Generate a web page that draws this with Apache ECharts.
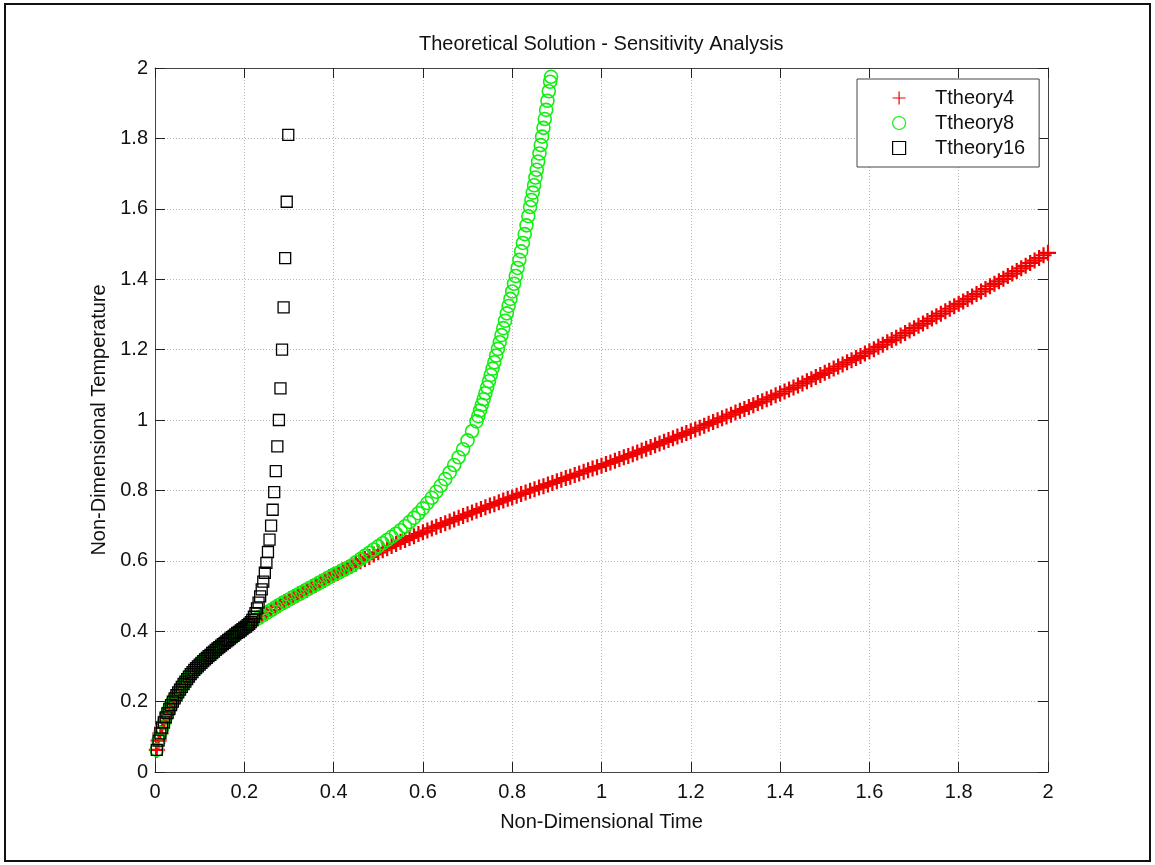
<!DOCTYPE html>
<html>

<head>
    <meta charset="utf-8">
    <title>Sensitivity Analysis</title>
    <script src="https://cdn.jsdelivr.net/npm/echarts@6/dist/echarts.min.js"></script>
    <style>
        html, body { margin: 0; padding: 0; background: #fff; }
        #main { width: 1155px; height: 865px; }
    </style>
</head>

<body>
    <div id="main"></div>
</body>
<script type="text/javascript">
    // [time, temperature] pairs
    // start of the curve, shared by all three runs
    var early = [
        [0.004, 0.063], [0.008, 0.089], [0.012, 0.110], [0.016, 0.126], [0.020, 0.141],
        [0.024, 0.155], [0.028, 0.167], [0.032, 0.179], [0.036, 0.190], [0.040, 0.200],
        [0.044, 0.209], [0.048, 0.218], [0.052, 0.226], [0.056, 0.234], [0.060, 0.242],
        [0.064, 0.250], [0.068, 0.257], [0.072, 0.264], [0.076, 0.271], [0.080, 0.278],
        [0.084, 0.284], [0.088, 0.290], [0.092, 0.295], [0.096, 0.300], [0.100, 0.305],
        [0.104, 0.310], [0.108, 0.315], [0.112, 0.320], [0.116, 0.324], [0.120, 0.329],
        [0.124, 0.333], [0.128, 0.338], [0.132, 0.342], [0.136, 0.347], [0.140, 0.351],
        [0.144, 0.355], [0.148, 0.359], [0.152, 0.363], [0.156, 0.367], [0.160, 0.371],
        [0.164, 0.375], [0.168, 0.379], [0.172, 0.383], [0.176, 0.387], [0.180, 0.391],
        [0.184, 0.395], [0.188, 0.398], [0.192, 0.402], [0.196, 0.406], [0.200, 0.410]
    ];
    // shared by Ttheory4 and Ttheory8
    var mid = [
        [0.21, 0.419], [0.22, 0.428], [0.23, 0.436], [0.24, 0.444], [0.25, 0.452],
        [0.26, 0.460], [0.27, 0.468], [0.28, 0.476], [0.29, 0.483], [0.30, 0.490],
        [0.31, 0.497], [0.32, 0.504], [0.33, 0.511], [0.34, 0.518], [0.35, 0.525],
        [0.36, 0.532], [0.37, 0.539], [0.38, 0.546], [0.39, 0.553], [0.40, 0.560],
        [0.41, 0.566], [0.42, 0.573], [0.43, 0.579], [0.44, 0.586]
    ];
    var theory4 = [
        [0.45, 0.592], [0.46, 0.599], [0.47, 0.605], [0.48, 0.611], [0.49, 0.618], [0.50, 0.624],
        [0.51, 0.630], [0.52, 0.636], [0.53, 0.642], [0.54, 0.648], [0.55, 0.654],
        [0.56, 0.659], [0.57, 0.665], [0.58, 0.670], [0.59, 0.676], [0.60, 0.681],
        [0.61, 0.686], [0.62, 0.692], [0.63, 0.697], [0.64, 0.702], [0.65, 0.707],
        [0.66, 0.712], [0.67, 0.717], [0.68, 0.722], [0.69, 0.727], [0.70, 0.732],
        [0.71, 0.737], [0.72, 0.742], [0.73, 0.747], [0.74, 0.752], [0.75, 0.757],
        [0.76, 0.761], [0.77, 0.766], [0.78, 0.771], [0.79, 0.776], [0.80, 0.780],
        [0.81, 0.785], [0.82, 0.790], [0.83, 0.794], [0.84, 0.799], [0.85, 0.803],
        [0.86, 0.808], [0.87, 0.812], [0.88, 0.817], [0.89, 0.821], [0.90, 0.826],
        [0.91, 0.830], [0.92, 0.835], [0.93, 0.839], [0.94, 0.844], [0.95, 0.848],
        [0.96, 0.853], [0.97, 0.857], [0.98, 0.862], [0.99, 0.866], [1.00, 0.870],
        [1.01, 0.875], [1.02, 0.879], [1.03, 0.884], [1.04, 0.889], [1.05, 0.894],
        [1.06, 0.898], [1.07, 0.903], [1.08, 0.908], [1.09, 0.913], [1.10, 0.918],
        [1.11, 0.923], [1.12, 0.928], [1.13, 0.933], [1.14, 0.938], [1.15, 0.943],
        [1.16, 0.948], [1.17, 0.953], [1.18, 0.958], [1.19, 0.963], [1.20, 0.968],
        [1.21, 0.973], [1.22, 0.978], [1.23, 0.984], [1.24, 0.989], [1.25, 0.994],
        [1.26, 0.999], [1.27, 1.005], [1.28, 1.010], [1.29, 1.015], [1.30, 1.021],
        [1.31, 1.026], [1.32, 1.031], [1.33, 1.037], [1.34, 1.042], [1.35, 1.048],
        [1.36, 1.053], [1.37, 1.059], [1.38, 1.064], [1.39, 1.070], [1.40, 1.075],
        [1.41, 1.081], [1.42, 1.087], [1.43, 1.092], [1.44, 1.098], [1.45, 1.104],
        [1.46, 1.110], [1.47, 1.116], [1.48, 1.122], [1.49, 1.128], [1.50, 1.134],
        [1.51, 1.140], [1.52, 1.146], [1.53, 1.152], [1.54, 1.158], [1.55, 1.164],
        [1.56, 1.170], [1.57, 1.176], [1.58, 1.182], [1.59, 1.189], [1.60, 1.195],
        [1.61, 1.201], [1.62, 1.208], [1.63, 1.214], [1.64, 1.221], [1.65, 1.227],
        [1.66, 1.234], [1.67, 1.240], [1.68, 1.247], [1.69, 1.254], [1.70, 1.261],
        [1.71, 1.268], [1.72, 1.274], [1.73, 1.281], [1.74, 1.288], [1.75, 1.295],
        [1.76, 1.302], [1.77, 1.309], [1.78, 1.316], [1.79, 1.323], [1.80, 1.330],
        [1.81, 1.337], [1.82, 1.344], [1.83, 1.351], [1.84, 1.358], [1.85, 1.365],
        [1.86, 1.372], [1.87, 1.380], [1.88, 1.387], [1.89, 1.394], [1.90, 1.401],
        [1.91, 1.409], [1.92, 1.416], [1.93, 1.423], [1.94, 1.431], [1.95, 1.438],
        [1.96, 1.446], [1.97, 1.453], [1.98, 1.460], [1.99, 1.468], [2.00, 1.475]
    ];
    var theory8 = [
        [0.45, 0.596], [0.46, 0.605], [0.47, 0.614], [0.48, 0.623], [0.49, 0.632], [0.50, 0.641],
        [0.51, 0.650], [0.52, 0.659], [0.53, 0.668], [0.54, 0.677], [0.55, 0.687],
        [0.56, 0.698], [0.57, 0.710], [0.58, 0.722], [0.59, 0.735], [0.60, 0.749],
        [0.61, 0.764], [0.62, 0.779], [0.63, 0.796], [0.64, 0.813], [0.65, 0.832],
        [0.66, 0.851], [0.67, 0.872], [0.68, 0.894], [0.69, 0.917], [0.70, 0.942],
        [0.71, 0.968], [0.72, 0.996], [0.724, 1.011], [0.728, 1.027], [0.732, 1.043],
        [0.736, 1.059], [0.740, 1.076], [0.744, 1.093], [0.748, 1.110], [0.752, 1.128],
        [0.756, 1.146], [0.760, 1.164], [0.764, 1.183], [0.768, 1.202], [0.772, 1.221],
        [0.776, 1.241], [0.780, 1.261], [0.784, 1.282], [0.788, 1.303], [0.792, 1.324],
        [0.796, 1.344], [0.800, 1.365], [0.804, 1.387], [0.808, 1.409], [0.812, 1.432],
        [0.816, 1.455], [0.820, 1.479], [0.824, 1.503], [0.828, 1.528], [0.832, 1.553],
        [0.836, 1.579], [0.840, 1.605], [0.843, 1.625], [0.846, 1.646], [0.849, 1.667],
        [0.852, 1.689], [0.855, 1.711], [0.858, 1.734], [0.861, 1.757], [0.864, 1.781],
        [0.867, 1.805], [0.870, 1.830], [0.873, 1.855], [0.876, 1.881], [0.879, 1.907],
        [0.882, 1.934], [0.885, 1.961], [0.887, 1.975]
    ];
    var theory16 = [
        [0.2040, 0.413], [0.2075, 0.417], [0.2110, 0.421], [0.2145, 0.426], [0.2180, 0.432],
        [0.2215, 0.441], [0.2250, 0.451], [0.2285, 0.465], [0.2320, 0.481], [0.2355, 0.499],
        [0.2390, 0.519], [0.2425, 0.541], [0.2460, 0.566], [0.2495, 0.594], [0.2530, 0.625],
        [0.2565, 0.660], [0.2600, 0.700], [0.2635, 0.745], [0.2670, 0.795], [0.2705, 0.855],
        [0.2740, 0.925], [0.2775, 1.000], [0.2810, 1.090], [0.2845, 1.200], [0.2880, 1.320],
        [0.2915, 1.460], [0.2950, 1.620], [0.2985, 1.810]
    ];
    var seriesNames = ['Ttheory4', 'Ttheory8', 'Ttheory16'];
    var tickStep = 0.2;

    var font = "'Liberation Sans', Arial, Helvetica, sans-serif";
    var plusPath = 'path://M0,5L10,5M5,0L5,10';
    var squarePath = 'path://M0,0L10,0L10,10L0,10Z';

    var chart = echarts.init(document.getElementById('main'));
    chart.setOption({
        animation: false,
        backgroundColor: '#fff',
        textStyle: { fontFamily: font, color: '#111' },
        title: {
            text: 'Theoretical Solution - Sensitivity Analysis',
            left: 419,
            top: 34,
            padding: 0,
            textStyle: { fontFamily: font, fontSize: 20, fontWeight: 'normal', color: '#111' }
        },
        legend: {
            data: seriesNames,
            orient: 'vertical',
            left: 857,
            top: 79,
            padding: [9, 14, 9, 35],
            itemWidth: 62,
            itemHeight: 13,
            itemGap: 5,
            backgroundColor: '#fff',
            borderColor: '#444',
            borderWidth: 1,
            itemStyle: { borderWidth: 1.2 },
            textStyle: { fontFamily: font, fontSize: 20, lineHeight: 20, color: '#111' }
        },
        graphic: [{
            type: 'rect',
            shape: { x: 5, y: 4, width: 1145, height: 857 },
            style: { fill: 'none', stroke: '#111', lineWidth: 2 },
            silent: true
        }],
        grid: { left: 155, right: 107, top: 68, bottom: 93 },
        xAxis: [{
            type: 'value',
            min: 0,
            max: 2,
            interval: tickStep,
            name: 'Non-Dimensional Time',
            nameLocation: 'middle',
            nameGap: 40,
            nameTextStyle: { fontFamily: font, fontSize: 20, color: '#111' },
            axisLine: { show: true, onZero: false, lineStyle: { color: '#444', width: 1 } },
            axisTick: { show: true, inside: true, length: 10, lineStyle: { color: '#222' } },
            axisLabel: { margin: 10, fontSize: 20, color: '#111', fontFamily: font },
            splitLine: { show: true, lineStyle: { color: '#b5b5b5', type: [1, 2], width: 1 } }
        }, {
            type: 'value',
            position: 'top',
            min: 0,
            max: 2,
            interval: tickStep,
            axisLine: { show: true, onZero: false, lineStyle: { color: '#444', width: 1 } },
            axisTick: { show: true, inside: true, length: 10, lineStyle: { color: '#222' } },
            axisLabel: { show: false },
            splitLine: { show: false }
        }],
        yAxis: [{
            type: 'value',
            min: 0,
            max: 2,
            interval: tickStep,
            name: 'Non-Dimensional Temperature',
            nameLocation: 'middle',
            nameGap: 45,
            nameTextStyle: { fontFamily: font, fontSize: 20, color: '#111' },
            axisLine: { show: true, onZero: false, lineStyle: { color: '#444', width: 1 } },
            axisTick: { show: true, inside: true, length: 10, lineStyle: { color: '#222' } },
            axisLabel: { margin: 7, fontSize: 20, color: '#111', fontFamily: font },
            splitLine: { show: true, lineStyle: { color: '#b5b5b5', type: [1, 2], width: 1 } }
        }, {
            type: 'value',
            position: 'right',
            min: 0,
            max: 2,
            interval: tickStep,
            axisLine: { show: true, onZero: false, lineStyle: { color: '#444', width: 1 } },
            axisTick: { show: true, inside: true, length: 10, lineStyle: { color: '#222' } },
            axisLabel: { show: false },
            splitLine: { show: false }
        }],
        series: [{
            name: 'Ttheory4',
            type: 'scatter',
            symbol: plusPath,
            symbolSize: 16,
            itemStyle: { color: '#ff0000', borderColor: '#f00000', borderWidth: 2.2, opacity: 1 },
            data: early.concat(mid, theory4)
        }, {
            name: 'Ttheory8',
            type: 'scatter',
            symbol: 'circle',
            symbolSize: 13,
            itemStyle: { color: 'rgba(0,0,0,0)', borderColor: '#11ee11', borderWidth: 1.6, opacity: 1 },
            data: early.concat(mid, theory8)
        }, {
            name: 'Ttheory16',
            type: 'scatter',
            symbol: squarePath,
            symbolSize: 11,
            itemStyle: { color: 'rgba(0,0,0,0)', borderColor: '#000', borderWidth: 1.3, opacity: 1 },
            data: early.concat(theory16)
        }]
    });
</script>

</html>
